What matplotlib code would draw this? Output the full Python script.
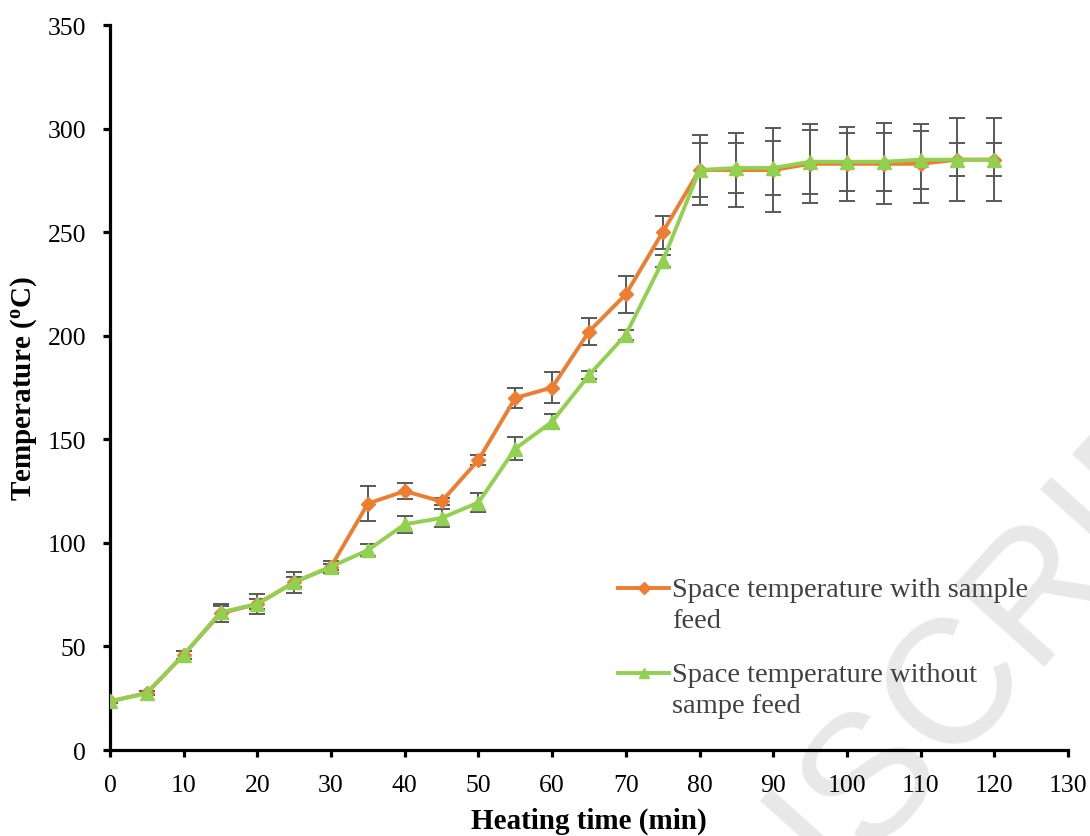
import matplotlib.pyplot as plt
from matplotlib.legend_handler import HandlerLine2D
import numpy as np

plt.rcParams['font.family'] = ['Liberation Serif', 'DejaVu Serif']
plt.rcParams['mathtext.fontset'] = 'custom'
plt.rcParams['mathtext.rm'] = 'Liberation Serif'
plt.rcParams['mathtext.bf'] = 'Liberation Serif:bold'

# heating time (min)
time = [0, 5, 10, 15, 20, 25, 30, 35, 40, 45, 50, 55, 60, 65, 70, 75,
        80, 85, 90, 95, 100, 105, 110, 115, 120]

# space temperature with sample feed (C) and its error
temp_feed = [23.5, 27.5, 46, 66, 70.5, 81, 88.5, 119, 125, 120, 140, 170, 175, 202,
             220, 250, 280, 280, 280, 283, 283, 283, 283, 285, 285]
err_feed = [1, 1, 2, 4.3, 5, 5, 3, 8.5, 4, 1.7, 2.2, 5, 7.5, 6.5,
            9, 8, 17, 18, 20.5, 19, 18, 19.5, 19, 20, 20]

# space temperature without sample feed (C) and its error
temp_nofeed = [23.5, 27.5, 46, 66.5, 70.5, 81, 88.5, 96.5, 109, 112, 119.5, 145.5, 158.5, 181,
               200.5, 236, 280, 281, 281, 284, 284, 284, 285, 285, 285]
err_nofeed = [1, 1, 2, 3, 2.5, 2.5, 1.5, 3, 4, 4.3, 4.6, 5.5, 3.5, 2,
              2.5, 3, 13, 12, 13, 15.5, 14, 14, 14, 8, 8]

labels = ['Space temperature with sample\nfeed',
          'Space temperature without\nsampe feed']


class FirstLineHandler(HandlerLine2D):
    # put the legend line next to the first line of a wrapped label
    def __init__(self, lift, **kw):
        super().__init__(**kw)
        self.lift = lift

    def create_artists(self, legend, orig_handle, xdescent, ydescent,
                       width, height, fontsize, trans):
        return super().create_artists(legend, orig_handle, xdescent,
                                      ydescent - 2 * self.lift, width, height,
                                      fontsize, trans)


fig = plt.figure(figsize=(10.9, 8.37), dpi=100)
ax = fig.add_axes([0.1009, 0.1027, 0.8789, 0.8662])

# watermark behind the plot
fig.text(1.165, 0.585, 'ACCEPTED MANUSCRIPT', family='Liberation Sans', fontsize=127,
         color='#e8e8e8', rotation=48, rotation_mode='anchor', ha='right', va='center',
         zorder=-1)
ax.set_facecolor('none')

ebar_kw = dict(fmt='none', ecolor='#595959', elinewidth=1.4, capsize=6, capthick=1.4, zorder=2)
ax.errorbar(time, temp_feed, yerr=err_feed, **ebar_kw)
ax.errorbar(time, temp_nofeed, yerr=err_nofeed, **ebar_kw)

l1, = ax.plot(time, temp_feed, color='#ED7D31', lw=2.8, marker='D', ms=7.5,
              label=labels[0], zorder=3)
l2, = ax.plot(time, temp_nofeed, color='#92D050', lw=2.8, marker='^', ms=9.5,
              label=labels[1], zorder=4)

ax.set_xlim(0, 130)
ax.set_ylim(0, 350)
ax.set_xticks(np.arange(0, 131, 10))
ax.set_yticks(np.arange(0, 351, 50))

for side in ['top', 'right']:
    ax.spines[side].set_visible(False)
for side in ['left', 'bottom']:
    ax.spines[side].set_linewidth(2.3)
    ax.spines[side].set_color('black')

ax.tick_params(axis='both', direction='out', length=5, width=2.3, labelsize=18.5,
               colors='black')
ax.tick_params(axis='x', pad=12)
ax.tick_params(axis='y', pad=12)

ax.set_xlabel('Heating time (min)', fontsize=21, fontweight='bold')
ax.set_ylabel(r'Temperature ($\mathbf{^{o}}$C)', fontsize=21, fontweight='bold')
ax.xaxis.set_label_coords(0.5, -0.078)
ax.yaxis.set_label_coords(-0.074, 0.5)

leg = ax.legend(loc='upper left', bbox_to_anchor=(0.567, 0.3096),
                bbox_transform=fig.transFigure, frameon=False, fontsize=20.5,
                handlelength=1.8, handletextpad=0.1, labelspacing=1.0,
                borderpad=0, borderaxespad=0, markerscale=0.8,
                handler_map={l1: FirstLineHandler(12), l2: FirstLineHandler(12)})
for t in leg.get_texts():
    t.set_color('#404040')
    t.set_linespacing(1.33)

fig.savefig('out.png', dpi=100)
